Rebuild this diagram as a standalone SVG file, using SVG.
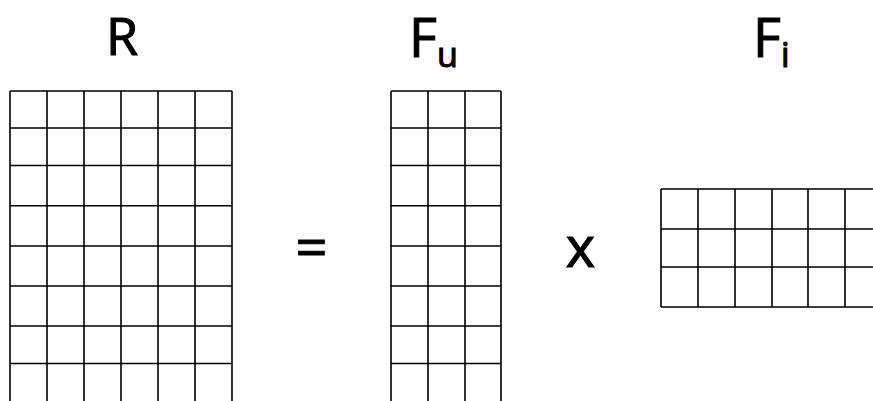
<svg xmlns="http://www.w3.org/2000/svg" width="873" height="401" viewBox="0 0 873 401">
<style>
.g{stroke:#000;stroke-width:1.6;fill:none}
.t{font-family:"Open Sans","Liberation Sans",sans-serif;fill:#000;stroke:#000;stroke-width:1.1}
</style>
<rect width="873" height="401" fill="#fff"/>
<g id="R">
<path class="g" d="M10,91V401M47,91V401M84,91V401M121,91V401M158,91V401M195,91V401M232,91V401"/>
<path class="g" d="M10,91H232M10,128H232M10,165.5H232M10,205.7H232M10,246H232M10,286H232M10,326H232M10,363.5H232"/>
<text class="t" x="122" y="55" font-size="52" text-anchor="middle">R</text>
</g>
<g id="Fu">
<path class="g" d="M391,91V401M428,91V401M465,91V401M501,91V401"/>
<path class="g" d="M391,91H501M391,128H501M391,165.5H501M391,205.7H501M391,246H501M391,286H501M391,326H501M391,363.5H501"/>
<text class="t" x="409" y="57" font-size="54">F<tspan font-size="34" dy="10">u</tspan></text>
</g>
<g id="Fi">
<path class="g" d="M661,189V307M698,189V307M735,189V307M772,189V307M808,189V307M845,189V307"/>
<path class="g" d="M661,189H873M661,229H873M661,267H873M661,307H873"/>
<text class="t" x="753" y="57" font-size="54">F<tspan font-size="34" dy="10">i</tspan></text>
</g>
<g id="ops">
<text class="t" x="311.5" y="267" font-size="56" text-anchor="middle">=</text>
<text class="t" x="580.5" y="267" font-size="56" text-anchor="middle">x</text>
</g>
</svg>
